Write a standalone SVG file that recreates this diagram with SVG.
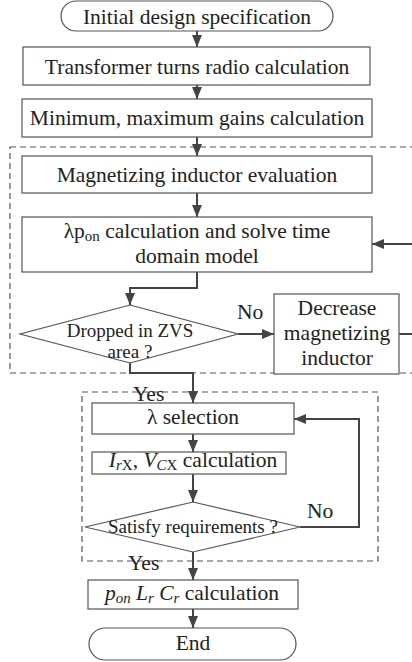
<svg xmlns="http://www.w3.org/2000/svg" width="412" height="662" viewBox="0 0 412 662">
<defs>
<marker id="ah" viewBox="0 0 12 10" markerWidth="12" markerHeight="10" refX="12" refY="5" orient="auto" markerUnits="userSpaceOnUse">
<path d="M0,0 L12,5 L0,10 z" fill="#444"/>
</marker>
</defs>
<rect width="412" height="662" fill="#fff"/>
<g id="groups" fill="none" stroke="#555" stroke-width="1.2" stroke-dasharray="6 4">
<rect x="10" y="147" width="410" height="226"/>
<rect x="82" y="392" width="296" height="169"/>
</g>
<g id="connectors" fill="none" stroke="#444" stroke-width="2">
<line x1="197" y1="31" x2="197" y2="47" marker-end="url(#ah)"/>
<line x1="197" y1="85" x2="197" y2="99" marker-end="url(#ah)"/>
<line x1="197" y1="137" x2="197" y2="156" marker-end="url(#ah)"/>
<line x1="197" y1="193" x2="197" y2="217" marker-end="url(#ah)"/>
<path d="M197,272 V288 H130 V305" marker-end="url(#ah)"/>
<line x1="238" y1="334" x2="274" y2="334" marker-end="url(#ah)"/>
<line x1="399" y1="334" x2="412" y2="334"/>
<line x1="412" y1="244" x2="372" y2="244" marker-end="url(#ah)"/>
<path d="M130,363 V373 H193 V403" marker-end="url(#ah)"/>
<line x1="193" y1="434" x2="193" y2="452" marker-end="url(#ah)"/>
<line x1="193" y1="474" x2="193" y2="502" marker-end="url(#ah)"/>
<path d="M300,527 H359 V419 H294" marker-end="url(#ah)"/>
<line x1="193" y1="552" x2="193" y2="580" marker-end="url(#ah)"/>
<line x1="193" y1="609" x2="193" y2="628" marker-end="url(#ah)"/>
</g>
<g id="nodes" fill="#fff" stroke="#555" stroke-width="1.2">
<g id="start"><rect x="61" y="1" width="272" height="30" rx="15"/></g>
<g id="turns"><rect x="23" y="47" width="347" height="38"/></g>
<g id="gains"><rect x="22" y="99" width="350" height="38"/></g>
<g id="magnetizing"><rect x="22" y="156" width="350" height="37"/></g>
<g id="lambda-pon"><rect x="22" y="217" width="350" height="55"/></g>
<g id="zvs"><polygon points="130,305 238,334 130,363 20,334"/></g>
<g id="decrease"><rect x="274" y="294" width="125" height="80"/></g>
<g id="lambda-sel"><rect x="92" y="403" width="202" height="31"/></g>
<g id="irx"><rect x="92" y="452" width="194" height="22"/></g>
<g id="satisfy"><polygon points="193,502 300,527 193,552 85,527"/></g>
<g id="pon"><rect x="88" y="580" width="210" height="29"/></g>
<g id="end"><rect x="89" y="628" width="207" height="32" rx="16"/></g>
</g>
<g id="texts" fill="#222" text-anchor="middle">
<text font-family="Liberation Serif" font-size="21.5" x="197" y="23.5">Initial design specification</text>
<text font-family="Liberation Serif" font-size="21.5" x="197" y="74">Transformer turns radio calculation</text>
<text font-family="Liberation Serif" font-size="21.5" x="197" y="125">Minimum, maximum gains calculation</text>
<text font-family="Liberation Serif" font-size="21.5" x="197" y="182">Magnetizing inductor evaluation</text>
<text font-family="Liberation Serif" font-size="21.5" x="197" y="238">λp<tspan font-size="15" dy="3">on</tspan><tspan dy="-3"> calculation and solve  time</tspan></text>
<text font-family="Liberation Serif" font-size="21.5" x="197" y="263">domain model</text>
<text font-family="Liberation Serif" font-size="19" x="130" y="337">Dropped in ZVS</text>
<text font-family="Liberation Serif" font-size="19" x="130" y="358">area ?</text>
<text font-family="Liberation Serif" font-size="21.5" x="337" y="315">Decrease</text>
<text font-family="Liberation Serif" font-size="21.5" x="337" y="340">magnetizing</text>
<text font-family="Liberation Serif" font-size="21.5" x="337" y="365">inductor</text>
<text font-family="Liberation Serif" font-size="21.5" x="193" y="424">λ selection</text>
<text font-family="Liberation Serif" font-size="21.5" x="193" y="467"><tspan font-style="italic">I</tspan><tspan font-size="15" dy="3"><tspan font-style="italic">r</tspan>X</tspan><tspan dy="-3">, </tspan><tspan font-style="italic">V</tspan><tspan font-size="15" dy="3"><tspan font-style="italic">C</tspan>X</tspan><tspan dy="-3"> calculation</tspan></text>
<text font-family="Liberation Serif" font-size="19" x="193" y="533">Satisfy requirements ?</text>
<text font-family="Liberation Serif" font-size="21.5" x="192" y="600"><tspan font-style="italic">p</tspan><tspan font-style="italic" font-size="15" dy="3">on</tspan><tspan font-style="italic" dy="-3"> L</tspan><tspan font-style="italic" font-size="15" dy="3">r</tspan><tspan font-style="italic" dy="-3"> C</tspan><tspan font-style="italic" font-size="15" dy="3">r</tspan><tspan dy="-3"> calculation</tspan></text>
<text font-family="Liberation Serif" font-size="21.5" x="193" y="650">End</text>
<g id="labels" text-anchor="start">
<text font-family="Liberation Serif" font-size="21.5" x="237" y="319">No</text>
<text font-family="Liberation Serif" font-size="21.5" x="133" y="401">Yes</text>
<text font-family="Liberation Serif" font-size="21.5" x="307" y="518">No</text>
<text font-family="Liberation Serif" font-size="21.5" x="128" y="570">Yes</text>
</g>
</g>
</svg>
